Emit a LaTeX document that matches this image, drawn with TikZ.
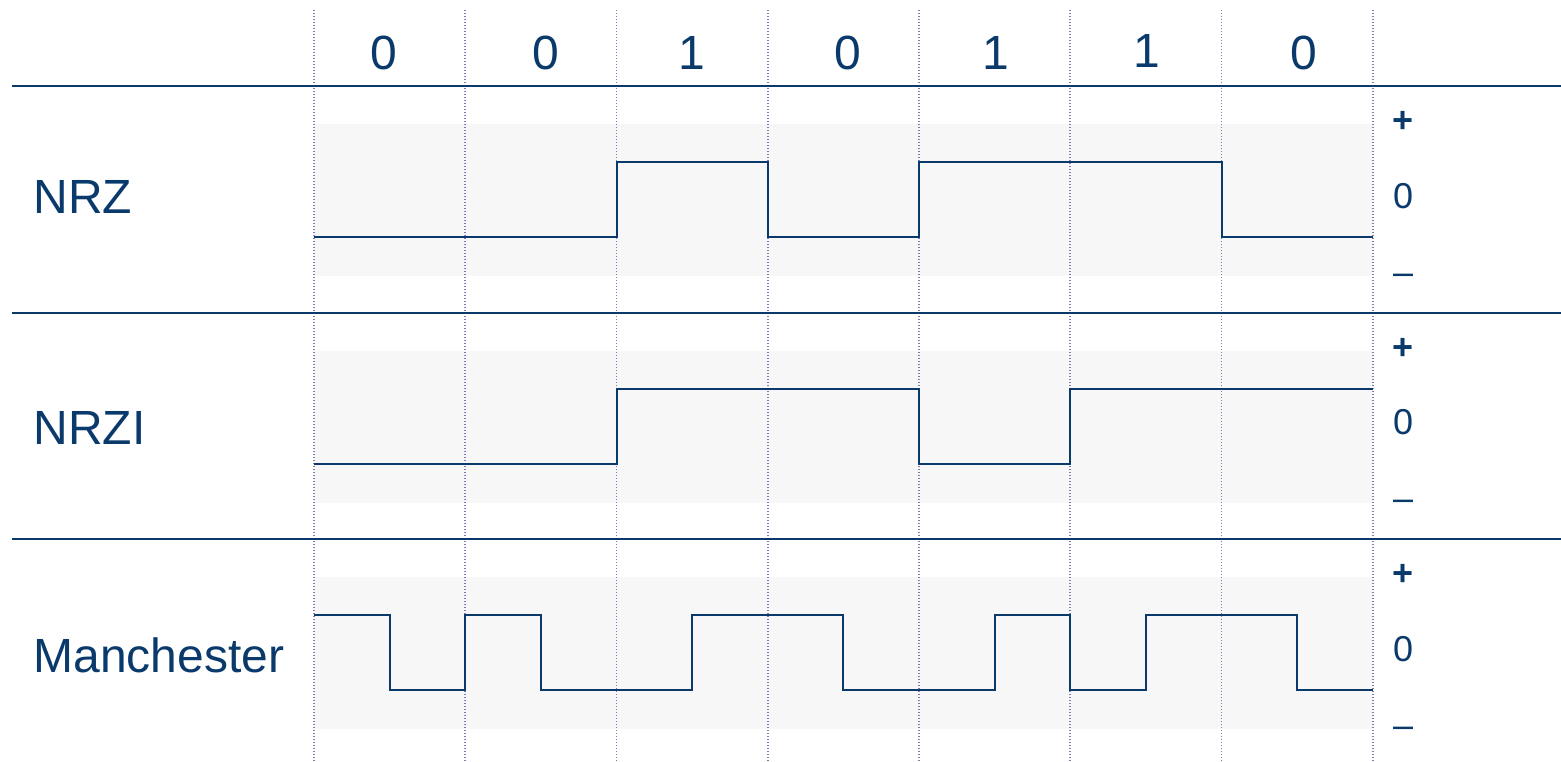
\documentclass[tikz,border=0pt]{standalone}
\usepackage{fontspec}
\setmainfont{Liberation Sans}
\usetikzlibrary{positioning}
\definecolor{cazul}{HTML}{0A3A6B}
\definecolor{cpunto}{HTML}{7B7BB5}
\definecolor{cbanda}{HTML}{F7F7F7}
\tikzset{
  senal/.style={draw=cazul, line width=1pt},
  separa/.style={draw=cazul, line width=1pt},
  rejilla/.style={draw=cpunto, line width=0.8pt, dash pattern=on 0.7pt off 0.8pt},
  banda/.style={fill=cbanda},
  bit/.style={font=\fontsize{24}{28}\selectfont, text=cazul, inner sep=0pt},
  nombre/.style={font=\fontsize{24}{28}\selectfont, text=cazul, anchor=west, inner sep=0pt},
  nivel/.style={font=\fontsize{18}{22}\selectfont, text=cazul, inner sep=0pt},
}

\begin{document}
\begin{tikzpicture}[x=0.5pt, y=-0.5pt]
  \useasboundingbox (0,0) rectangle (1561,761);
  % bandas grises
  \foreach \k in {0,1,2}
    \fill[banda] (314,{124+226.5*\k}) rectangle (1373,{276+226.5*\k});
  % rejilla punteada
  \foreach \i in {0,...,7}
    \draw[rejilla] ({314+151.25*\i},10) -- ({314+151.25*\i},761);
  % separadores
  \foreach \k in {0,1,2}
    \draw[separa] (12,{86+226.5*\k}) -- (1561,{86+226.5*\k});
  % bits
  \foreach \b/\x/\y [count=\i from 0] in {0/384/53, 0/546/53, 1/692/53, 0/848/53,
      1/996/53, 1/1147/51, 0/1304/53}
    \node[bit] (b\i) at (\x,\y) {\b};
  % nombres
  \node[nombre] (nrz) at (33,197) {NRZ};
  \node[nombre] (nrzi) at (33,428) {NRZI};
  \node[nombre] (manch) at (33,655) {Manchester};
  % niveles
  \foreach \k in {0,1,2} {
    \node[nivel, font=\fontsize{18}{22}\selectfont\bfseries] (mas\k) at (1403,{122+226.5*\k}) {+};
    \node[nivel] (cero\k) at (1403,{196+226.5*\k}) {0};
    \node[nivel] (menos\k) at (1403,{279+226.5*\k}) {--};
  }
  % senales
  \begin{scope}[shift={(314,0)}, x=75.625pt]
    \draw[senal] (0,237) -- (2,237) -- (2,162) -- (3,162) -- (3,237) -- (4,237)
      -- (4,162) -- (6,162) -- (6,237) -- (7,237);
    \draw[senal] (0,463.5) -- (2,463.5) -- (2,388.5) -- (4,388.5) -- (4,463.5)
      -- (5,463.5) -- (5,388.5) -- (7,388.5);
    \draw[senal] (0,615) -- (.5,615) -- (.5,690) -- (1,690) -- (1,615) -- (1.5,615)
      -- (1.5,690) -- (2.5,690) -- (2.5,615) -- (3.5,615) -- (3.5,690) -- (4.5,690)
      -- (4.5,615) -- (5,615) -- (5,690) -- (5.5,690) -- (5.5,615) -- (6.5,615)
      -- (6.5,690) -- (7,690);
  \end{scope}
\end{tikzpicture}
\end{document}
